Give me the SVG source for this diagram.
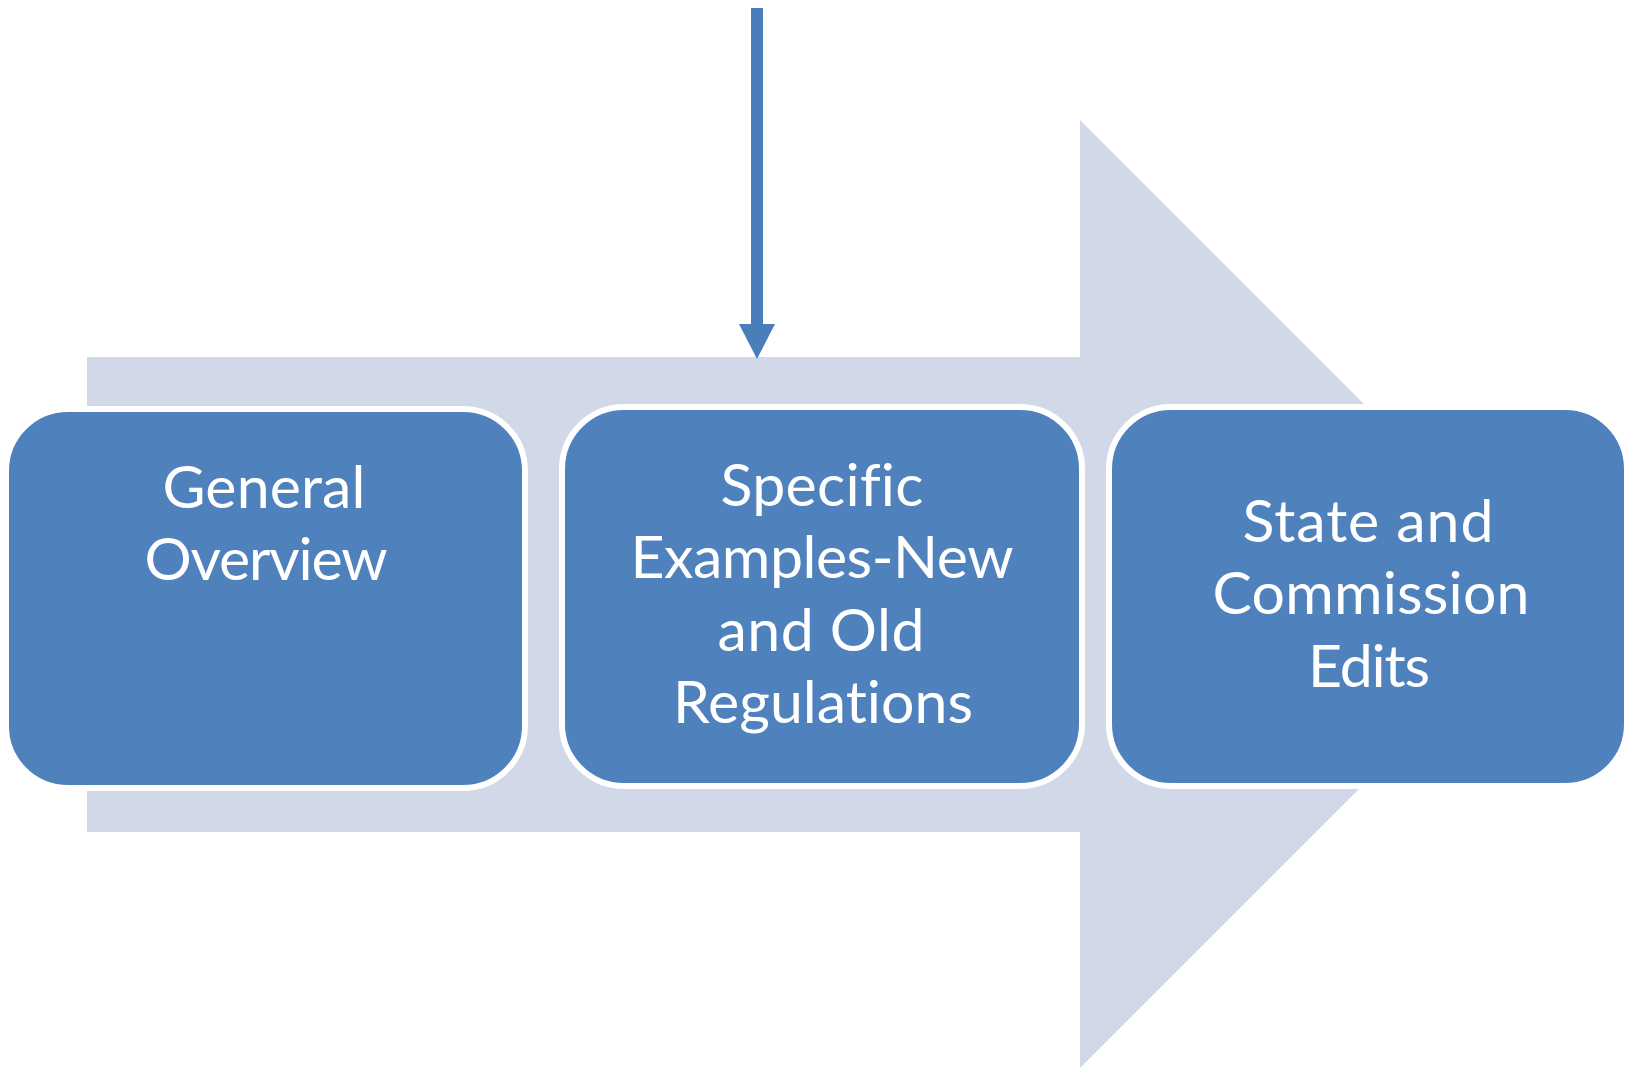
<svg xmlns="http://www.w3.org/2000/svg" width="1630" height="1068" viewBox="0 0 1630 1068">
<style>
.box{fill:#4F81BD;stroke:#FFFFFF;stroke-width:6}
.lbl{font-family:Lato,"Open Sans","Liberation Sans",sans-serif;font-size:59px;fill:#FFFFFF;text-anchor:middle;font-variant-ligatures:none;font-feature-settings:"liga" 0,"clig" 0,"dlig" 0}
.conn{fill:#4A7EBB}
</style>
<rect width="1630" height="1068" fill="#FFFFFF"/>
<g id="background-arrow">
<polygon points="87,357 1080,357 1080,120 1554,594 1080,1068 1080,832 87,832" fill="#D1D8E7"/>
</g>
<g id="connectors">
<rect class="conn" x="751" y="8" width="12" height="318"/>
<polygon class="conn" points="739,324 775,324 757,359"/>
</g>
<g id="node-general-overview">
<rect class="box" x="6" y="409" width="519" height="379" rx="62" ry="62"/>
<text class="lbl" x="264" y="508" textLength="203" lengthAdjust="spacing">General</text>
<text class="lbl" x="266" y="580" textLength="243" lengthAdjust="spacing">Overview</text>
</g>
<g id="node-specific-examples">
<rect class="box" x="562" y="407" width="520" height="379" rx="62" ry="62"/>
<text class="lbl" x="822" y="506" textLength="203" lengthAdjust="spacing">Specific</text>
<text class="lbl" x="822" y="578" textLength="383" lengthAdjust="spacing">Examples-New</text>
<text class="lbl" x="821" y="651" textLength="207" lengthAdjust="spacing">and Old</text>
<text class="lbl" x="823" y="723" textLength="300" lengthAdjust="spacing">Regulations</text>
</g>
<g id="node-state-commission">
<rect class="box" x="1109" y="407" width="518" height="379" rx="62" ry="62"/>
<text class="lbl" x="1368" y="542" textLength="251" lengthAdjust="spacing">State and</text>
<text class="lbl" x="1371" y="614" textLength="317" lengthAdjust="spacing">Commission</text>
<text class="lbl" x="1369" y="687" textLength="122" lengthAdjust="spacing">Edits</text>
</g>
</svg>
